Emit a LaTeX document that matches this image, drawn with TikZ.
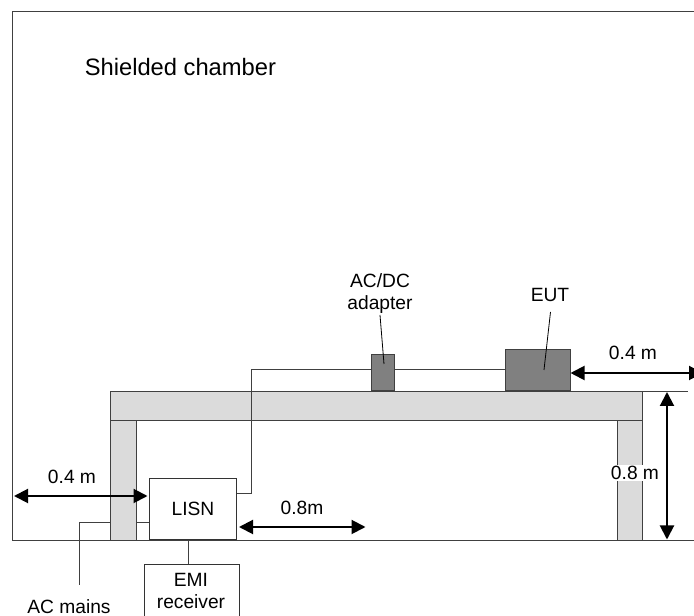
\documentclass[tikz,border=0pt]{standalone}
\usepackage{fontspec}
\setmainfont{Liberation Sans}
\usetikzlibrary{arrows.meta}
\tikzset{
  x=0.75pt,y=-0.75pt,
  line/.style={draw=black!75,line width=0.65pt},
  tbl/.style={fill=black!14,draw=black!75,line width=0.65pt},
  dev/.style={fill=black!50,draw=black!75,line width=0.65pt,inner sep=0pt},
  whitebox/.style={fill=white,draw=black!80,line width=0.65pt,inner sep=0pt},
  leader/.style={draw=black,line width=0.6pt},
  dim/.style={black,line width=1.5pt,{Triangle[width=10.5pt,length=10.5pt]}-{Triangle[width=10.5pt,length=10.5pt]}},
  lab/.style={font=\fontsize{14.4}{17}\selectfont,align=center,inner sep=1pt},
}
\begin{document}
\begin{tikzpicture}
\useasboundingbox (0,0) rectangle (694,616);
\fill[white] (0,0) rectangle (694,616);
% chamber: its right edge lies outside the picture
\coordinate (chTL) at (12,11);
\coordinate (chTR) at (694,11);
\coordinate (chBL) at (12,540);
\coordinate (chBR) at (694,540);
\draw[line] (chBR) -- (chBL) -- (chTL) -- (chTR);
\node[lab,anchor=west,font=\fontsize{17.8}{21}\selectfont,inner sep=0pt] (title) at (84.5,67) {Shielded chamber};
% table
\draw[tbl] (110,420) rectangle (136,540);
\draw[tbl] (617,420) rectangle (642,540);
\draw[tbl] (110,391) rectangle (642,420);
\draw[line] (642,391) -- (688,391);
% devices
\node[dev,anchor=south west,minimum width=17.25pt,minimum height=27pt] (adapter) at (371,391) {};
\node[dev,anchor=south west,minimum width=48.5pt,minimum height=31pt] (eut) at (505,391) {};
\node[whitebox,anchor=south west,minimum width=65.25pt,minimum height=45.75pt,font=\fontsize{14.4}{17}\selectfont] (lisn) at (149,540) {LISN};
\node[whitebox,anchor=north west,minimum width=71.5pt,minimum height=45pt] (emi) at (143.5,564) {};
\node[lab] (emilab) at (191,591) {EMI\\receiver};
% cables
\draw[line] (adapter.west |- 0,369) -- (251,369) -- (251,493) -- (lisn.east |- 0,493);
\draw[line] (adapter.east |- 0,369) -- (eut.west |- 0,369);
\draw[line] (lisn.south -| 188,0) -- (emi.north -| 188,0);
\draw[line] (lisn.west |- 0,522) -- (136,522);
\draw[line] (110,522) -- (79,522) -- (79,585);
\node[lab] (mains) at (69,607) {AC mains};
% labels with leaders
\node[lab] (adlab) at (380,293.5) {AC/DC\\adapter};
\node[lab] (eutlab) at (550,295) {EUT};
\draw[leader] (380,315) -- (384,364);
\draw[leader] (550.5,312) -- (544,370);
% dimensions
\coordinate (d1a) at (14,496);
\coordinate (d1b) at (147.5,496);
\draw[dim] (d1a) -- (d1b);
\node[lab] (d1lab) at (72,477) {0.4 m};
\coordinate (d2a) at (239,527);
\coordinate (d2b) at (365.5,527);
\draw[dim] (d2a) -- (d2b);
\node[lab] (d2lab) at (302,508) {0.8m};
\coordinate (d3b) at (703,373);
\draw[dim] (eut.east |- 0,373) -- (d3b);
\node[lab] (d3lab) at (633,353) {0.4 m};
\coordinate (d4a) at (667,392);
\coordinate (d4b) at (667,539.5);
\draw[dim] (d4a) -- (d4b);
\node[lab,fill=white] (d4lab) at (635,473) {0.8 m};
\end{tikzpicture}
\end{document}
